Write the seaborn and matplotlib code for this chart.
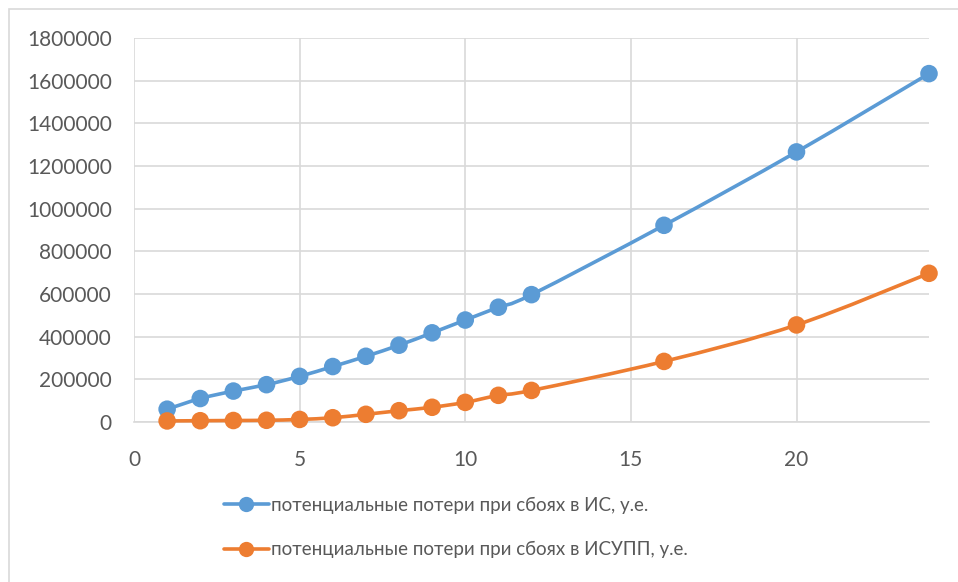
import numpy as np
import pandas as pd
import seaborn as sns
import matplotlib.pyplot as plt
from matplotlib.path import Path
from matplotlib.patches import PathPatch, Rectangle
from matplotlib.lines import Line2D

# Series data
x_vals = [1, 2, 3, 4, 5, 6, 7, 8, 9, 10, 11, 12, 16, 20, 24]
losses_is = [60000, 110000, 145000, 175000, 214000, 260000, 308000, 360000,
             418000, 478000, 538000, 597000, 922000, 1266000, 1633000]
losses_isupp = [5000, 6000, 7000, 8000, 12000, 20000, 36000, 53000,
                69000, 92000, 125000, 148000, 284000, 455000, 697000]
series_names = ["потенциальные потери при сбоях в ИС, у.е.",
                "потенциальные потери при сбоях в ИСУПП, у.е."]
x_ticks = [0, 5, 10, 15, 20]
y_ticks = [0, 200000, 400000, 600000, 800000, 1000000, 1200000,
           1400000, 1600000, 1800000]

colors = ["#5B9BD5", "#ED7D31"]

df = pd.DataFrame({
    "x": x_vals * 2,
    "y": losses_is + losses_isupp,
    "series": [series_names[0]] * len(x_vals) + [series_names[1]] * len(x_vals),
})

sns.set_theme(style="white")
plt.rcParams["font.family"] = ["Lato", "DejaVu Sans"]

fig = plt.figure(figsize=(9.58, 5.82), dpi=100)
ax = fig.add_axes([134 / 958, 1 - 422 / 582, (929 - 134) / 958, (422 - 38) / 582])

# Light outer frame of the chart area
fig.patches.append(Rectangle((9 / 958, -0.1), 1.2, 1 - 9 / 582 + 0.1,
                             transform=fig.transFigure, fill=False,
                             edgecolor="#D9D9D9", linewidth=1.2, zorder=0))


def smooth_path(xs, ys):
    """Cubic Bezier path through the points (Catmull-Rom style tangents)."""
    pts = np.column_stack([xs, ys]).astype(float)
    n = len(pts)
    verts = [pts[0]]
    codes = [Path.MOVETO]
    for i in range(n - 1):
        p0 = pts[i - 1] if i > 0 else pts[i]
        p1 = pts[i]
        p2 = pts[i + 1]
        p3 = pts[i + 2] if i + 2 < n else pts[i + 1]
        c1 = p1 + (p2 - p0) / 6.0
        c2 = p2 - (p3 - p1) / 6.0
        verts += [c1, c2, p2]
        codes += [Path.CURVE4] * 3
    return Path(verts, codes)


for name, vals, col in zip(series_names, [losses_is, losses_isupp], colors):
    ax.add_patch(PathPatch(smooth_path(x_vals, vals), facecolor="none",
                           edgecolor=col, linewidth=2.6, zorder=3,
                           capstyle="round", joinstyle="round",
                           clip_on=False))

sns.scatterplot(data=df, x="x", y="y", hue="series", palette=colors,
                s=160, edgecolor="none", linewidth=0, ax=ax, zorder=4,
                legend=False)
for coll in ax.collections:
    coll.set_clip_on(False)

ax.set_xlim(0, 24)
ax.set_ylim(0, 1800000)
ax.set_xticks(x_ticks)
ax.set_yticks(y_ticks)
ax.set_xticklabels([str(t) for t in x_ticks])
ax.set_yticklabels([str(t) for t in y_ticks])
ax.set_xlabel("")
ax.set_ylabel("")
ax.grid(True, color="#D9D9D9", linewidth=1.2)
ax.set_axisbelow(True)
for side in ["top", "right", "left"]:
    ax.spines[side].set_visible(False)
ax.spines["bottom"].set_color("#D9D9D9")
ax.spines["bottom"].set_linewidth(1.2)
ax.tick_params(axis="both", length=0, labelsize=15, labelcolor="#595959")
ax.tick_params(axis="y", pad=16)
ax.tick_params(axis="x", pad=20)

handles = [Line2D([0], [0], color=c, linewidth=2.6, marker="o",
                  markersize=11, markeredgewidth=0) for c in colors]
leg = fig.legend(handles, series_names, loc="center left",
                 bbox_to_anchor=(216 / 958, 1 - 527.5 / 582), frameon=False,
                 fontsize=13.5, handlelength=2.4, handletextpad=0.15,
                 labelspacing=1.45, borderaxespad=0)
for t in leg.get_texts():
    t.set_color("#595959")

fig.savefig("out.png", dpi=100)
